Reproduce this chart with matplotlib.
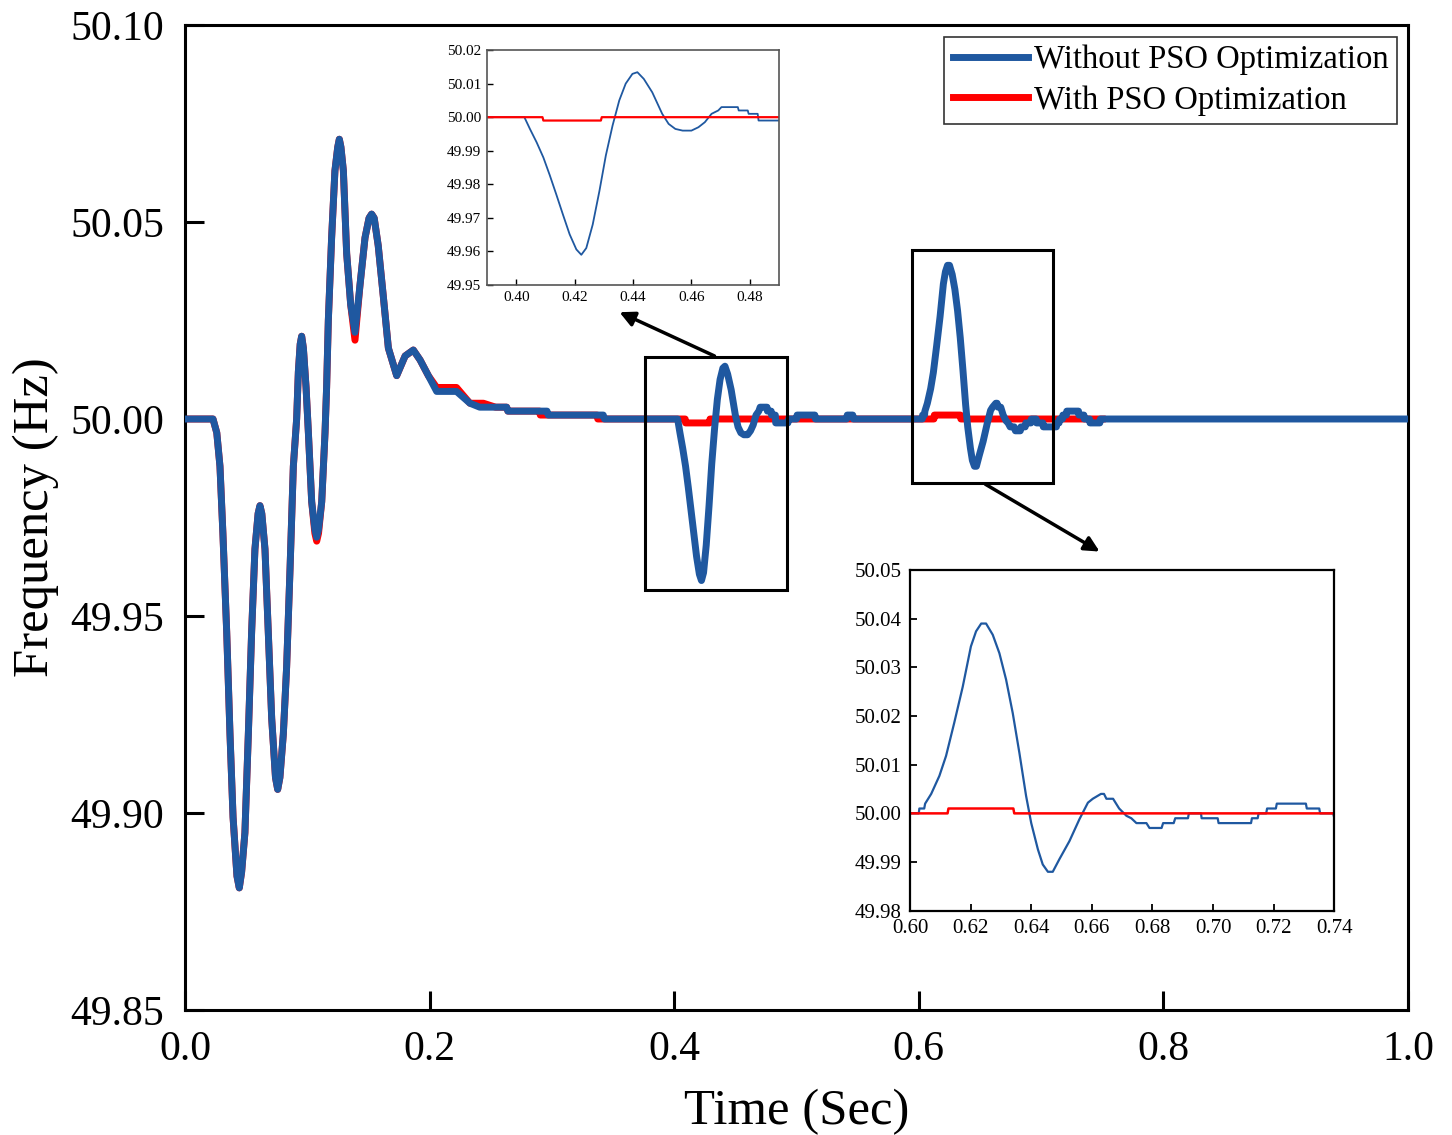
import numpy as np
import matplotlib
matplotlib.use('Agg')
import matplotlib.pyplot as plt
from matplotlib.patches import Rectangle

plt.rcParams['font.family'] = ['Liberation Serif', 'DejaVu Serif']

# Without PSO optimization
blue_t = [0.000, 0.0229, 0.026, 0.0286, 0.031, 0.0341, 0.0368, 0.0393, 0.0425, 0.0444,
          0.0463, 0.049, 0.0518, 0.0545, 0.0572, 0.0598, 0.0613, 0.0628, 0.0654, 0.0681,
          0.0709, 0.074, 0.0758, 0.0776, 0.0804, 0.0831, 0.0859, 0.0886, 0.0913, 0.0927,
          0.0942, 0.0954, 0.0968, 0.099, 0.1009, 0.1036, 0.1062, 0.1077, 0.1092, 0.1118,
          0.1145, 0.1158, 0.1172, 0.1199, 0.1226, 0.1249, 0.1262, 0.1275, 0.1295, 0.1322,
          0.1355, 0.139, 0.1431, 0.1472, 0.1505, 0.1526, 0.1547, 0.158, 0.1622, 0.1663,
          0.1731, 0.180, 0.1867, 0.1922, 0.199, 0.2058, 0.222, 0.233, 0.241, 0.263,
          0.264, 0.296, 0.297, 0.342, 0.343, 0.4028, 0.4047, 0.407, 0.4093, 0.4115,
          0.4138, 0.416, 0.4183, 0.4206, 0.4223, 0.424, 0.4262, 0.4285, 0.4307, 0.433,
          0.4353, 0.4375, 0.4398, 0.4415, 0.4437, 0.4466, 0.450, 0.4522, 0.4545, 0.457,
          0.460, 0.4624, 0.4646, 0.4669, 0.4692, 0.4703, 0.4759, 0.4762, 0.4793, 0.4796,
          0.4827, 0.4830, 0.4930, 0.4935, 0.500, 0.5005, 0.515, 0.5155, 0.541, 0.5415,
          0.546, 0.5465, 0.6029, 0.6031, 0.6047, 0.605, 0.607, 0.6097, 0.6119, 0.6146,
          0.6174, 0.6201, 0.6218, 0.6235, 0.6251, 0.6273, 0.6295, 0.6317, 0.6339, 0.6361,
          0.6383, 0.640, 0.6422, 0.6438, 0.6455, 0.6471, 0.6493, 0.6526, 0.6559, 0.6587,
          0.6603, 0.663, 0.664, 0.6648, 0.667, 0.669, 0.6714, 0.673, 0.6747, 0.678,
          0.679, 0.683, 0.6835, 0.687, 0.6875, 0.6917, 0.692, 0.696, 0.6962, 0.7015,
          0.7018, 0.7125, 0.7128, 0.7147, 0.715, 0.7175, 0.7178, 0.7207, 0.721, 0.7306,
          0.7309, 0.735, 0.7353, 0.7396, 0.740, 0.748, 0.7485, 1.000]
blue_f = [50.000, 50.000, 49.9965, 49.988, 49.971, 49.946, 49.920, 49.899, 49.884, 49.881,
          49.885, 49.895, 49.920, 49.946, 49.967, 49.976, 49.978, 49.976, 49.967, 49.946,
          49.924, 49.909, 49.906, 49.909, 49.920, 49.937, 49.962, 49.988, 50.000, 50.012,
          50.019, 50.021, 50.018, 50.008, 49.9965, 49.979, 49.972, 49.970, 49.972, 49.979,
          49.9965, 50.008, 50.025, 50.046, 50.063, 50.069, 50.071, 50.069, 50.063, 50.042,
          50.029, 50.022, 50.034, 50.046, 50.051, 50.052, 50.051, 50.044, 50.031, 50.018,
          50.011, 50.016, 50.0175, 50.015, 50.011, 50.007, 50.007, 50.004, 50.003, 50.003,
          50.002, 50.002, 50.001, 50.001, 50.000, 50.000, 49.9965, 49.9925, 49.988, 49.9827,
          49.9768, 49.971, 49.9651, 49.9606, 49.959, 49.961, 49.968, 49.978, 49.9886, 49.9975,
          50.005, 50.010, 50.0129, 50.0134, 50.0114, 50.0074, 50.001, 49.998, 49.9965, 49.996,
          49.996, 49.997, 49.9985, 50.001, 50.002, 50.003, 50.003, 50.002, 50.002, 50.001,
          50.001, 49.999, 49.999, 50.000, 50.000, 50.001, 50.001, 50.000, 50.000, 50.001,
          50.001, 50.000, 50.000, 50.001, 50.001, 50.002, 50.004, 50.0077, 50.0118, 50.0186,
          50.026, 50.0343, 50.0374, 50.039, 50.039, 50.0367, 50.0329, 50.0275, 50.0206, 50.0124,
          50.0036, 49.998, 49.9926, 49.9895, 49.988, 49.988, 49.9906, 49.9943, 49.9988, 50.0022,
          50.003, 50.004, 50.004, 50.003, 50.003, 50.001, 49.9995, 49.999, 49.998, 49.998,
          49.997, 49.997, 49.998, 49.998, 49.999, 49.999, 50.000, 50.000, 49.999, 49.999,
          49.998, 49.998, 49.999, 49.999, 50.000, 50.000, 50.001, 50.001, 50.002, 50.002,
          50.001, 50.001, 50.000, 50.000, 49.999, 49.999, 50.000, 50.000]

# With PSO optimization
red_t = [0.000, 0.0229, 0.026, 0.0286, 0.031, 0.0341, 0.0368, 0.0393, 0.0425, 0.0444,
         0.0463, 0.049, 0.0518, 0.0545, 0.0572, 0.0598, 0.0613, 0.0628, 0.0654, 0.0681,
         0.0709, 0.074, 0.0758, 0.0776, 0.0804, 0.0831, 0.0859, 0.0886, 0.0913, 0.0927,
         0.0942, 0.0954, 0.0968, 0.099, 0.1009, 0.1036, 0.1062, 0.1077, 0.1092, 0.1118,
         0.1145, 0.1158, 0.1172, 0.1199, 0.1226, 0.1249, 0.1262, 0.1275, 0.1295, 0.1322,
         0.1355, 0.139, 0.1431, 0.1472, 0.1505, 0.1526, 0.1547, 0.158, 0.1622, 0.1663,
         0.1731, 0.180, 0.1867, 0.1922, 0.199, 0.2058, 0.222, 0.233, 0.244, 0.254,
         0.263, 0.264, 0.290, 0.2905, 0.337, 0.3375, 0.409, 0.4093, 0.429, 0.4293,
         0.6124, 0.6127, 0.6341, 0.6344, 0.750]
red_f = [50.000, 50.000, 49.9965, 49.988, 49.971, 49.946, 49.920, 49.899, 49.884, 49.881,
         49.885, 49.895, 49.920, 49.946, 49.967, 49.976, 49.978, 49.976, 49.967, 49.946,
         49.924, 49.909, 49.906, 49.909, 49.920, 49.937, 49.962, 49.988, 50.000, 50.012,
         50.019, 50.021, 50.018, 50.008, 49.9965, 49.979, 49.971, 49.969, 49.971, 49.979,
         49.9965, 50.008, 50.025, 50.046, 50.063, 50.069, 50.071, 50.069, 50.063, 50.042,
         50.029, 50.020, 50.034, 50.046, 50.051, 50.052, 50.051, 50.044, 50.031, 50.018,
         50.011, 50.016, 50.0175, 50.015, 50.011, 50.008, 50.008, 50.004, 50.004, 50.003,
         50.003, 50.002, 50.002, 50.001, 50.001, 50.000, 50.000, 49.999, 49.999, 50.000,
         50.000, 50.001, 50.001, 50.000, 50.000]

labels = ['Without PSO Optimization', 'With PSO Optimization']
xticks_main = [0.0, 0.2, 0.4, 0.6, 0.8, 1.0]
yticks_main = [49.85, 49.90, 49.95, 50.00, 50.05, 50.10]
zoom1_x = [0.40, 0.42, 0.44, 0.46, 0.48]
zoom1_y = [49.95, 49.96, 49.97, 49.98, 49.99, 50.00, 50.01, 50.02]
zoom2_x = [0.60, 0.62, 0.64, 0.66, 0.68, 0.70, 0.72, 0.74]
zoom2_y = [49.98, 49.99, 50.00, 50.01, 50.02, 50.03, 50.04, 50.05]

BLUE = '#1f58a0'
RED = '#ff0000'

fig = plt.figure(figsize=(14.52, 11.35), dpi=100)
ax = fig.add_axes([0.1274, 0.1101, 0.8423, 0.8679])

ax.plot(red_t, red_f, color=RED, lw=5, label=labels[1], zorder=2)
ax.plot(blue_t, blue_f, color=BLUE, lw=5, label=labels[0], zorder=3)

ax.set_xlim(0, 1.0)
ax.set_ylim(49.85, 50.10)
ax.set_xticks(xticks_main)
ax.set_xticklabels([f'{v:.1f}' for v in xticks_main])
ax.set_yticks(yticks_main)
ax.set_yticklabels([f'{v:.2f}' for v in yticks_main])
ax.tick_params(direction='in', length=14, width=2.2, labelsize=30)
ax.tick_params(axis='x', pad=15)
ax.tick_params(axis='y', pad=15)
for s in ax.spines.values():
    s.set_linewidth(2.2)
ax.set_xlabel('Time (Sec)', fontsize=36.5, labelpad=14)
ax.set_ylabel('Frequency (Hz)', fontsize=36.5, labelpad=8)

# zoom boxes and arrows
ax.add_patch(Rectangle((0.3761, 49.9566), 0.1161, 0.0591, fill=False, ec='black', lw=2.2, zorder=4))
ax.add_patch(Rectangle((0.5944, 49.9838), 0.1153, 0.0591, fill=False, ec='black', lw=2.2, zorder=4))
ax.annotate('', xy=(0.3532, 50.0274), xytext=(0.435, 50.0157),
            arrowprops=dict(arrowstyle='-|>,head_length=0.9,head_width=0.45', color='black', lw=2.5))
ax.annotate('', xy=(0.7498, 49.966), xytext=(0.6525, 49.9838),
            arrowprops=dict(arrowstyle='-|>,head_length=0.9,head_width=0.45', color='black', lw=2.5))

h, l = ax.get_legend_handles_labels()
leg = ax.legend(h[::-1], l[::-1], loc='upper right', bbox_to_anchor=(0.991, 0.988),
                fontsize=23.5, frameon=True, fancybox=False, edgecolor='black',
                handlelength=2.3, handletextpad=0.2, borderpad=0.25, labelspacing=0.3,
                borderaxespad=0)
leg.get_frame().set_linewidth(1.2)

# inset 1
ax1 = fig.add_axes([0.3354, 0.7489, 0.2011, 0.2070])
ax1.plot(blue_t, blue_f, color=BLUE, lw=1.3)
ax1.plot(red_t, red_f, color=RED, lw=1.6)
ax1.set_xlim(0.39, 0.49)
ax1.set_ylim(49.95, 50.02)
ax1.set_xticks(zoom1_x)
ax1.set_xticklabels([f'{v:.2f}' for v in zoom1_x])
ax1.set_yticks(zoom1_y)
ax1.set_yticklabels([f'{v:.2f}' for v in zoom1_y])
ax1.tick_params(direction='in', length=4, width=1, labelsize=11, pad=4)
for s in ax1.spines.values():
    s.set_linewidth(1.2)
    s.set_color('#555555')

# inset 2
ax2 = fig.add_axes([0.6267, 0.1976, 0.2923, 0.3002])
ax2.plot(blue_t, blue_f, color=BLUE, lw=1.6)
ax2.plot(red_t, red_f, color=RED, lw=1.8)
ax2.set_xlim(0.60, 0.74)
ax2.set_ylim(49.98, 50.05)
ax2.set_xticks(zoom2_x)
ax2.set_xticklabels([f'{v:.2f}' for v in zoom2_x])
ax2.set_yticks(zoom2_y)
ax2.set_yticklabels([f'{v:.2f}' for v in zoom2_y])
ax2.tick_params(direction='in', length=5, width=1.3, labelsize=15)
ax2.tick_params(axis='x', pad=6)
ax2.tick_params(axis='y', pad=6)
for s in ax2.spines.values():
    s.set_linewidth(1.6)

fig.savefig('out.png', dpi=100)
